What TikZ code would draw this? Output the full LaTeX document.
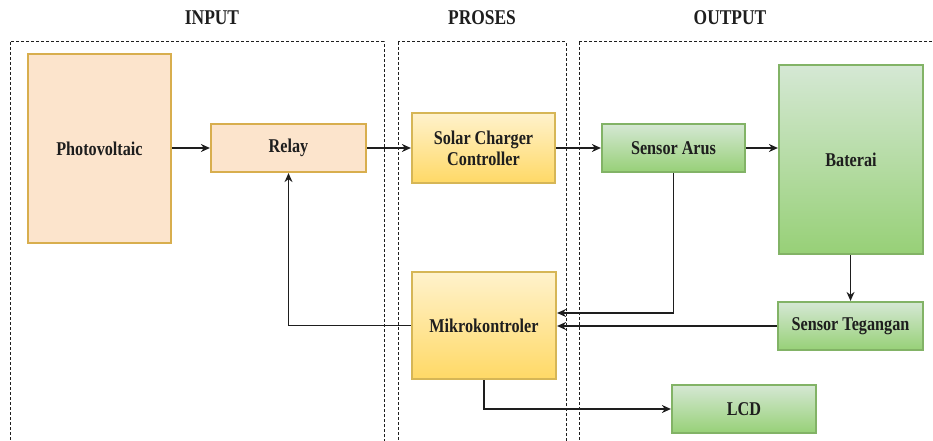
\documentclass[tikz,border=0pt]{standalone}
\usepackage{fontspec}
\setmainfont{Liberation Serif}[FakeStretch=0.83]
\usetikzlibrary{arrows.meta,calc}
\definecolor{orfill}{HTML}{FCE4CC}
\definecolor{ordraw}{HTML}{D8AE4E}
\definecolor{yltop}{HTML}{FFF2CC}
\definecolor{ylbot}{HTML}{FFD966}
\definecolor{yldraw}{HTML}{D6B656}
\definecolor{grtop}{HTML}{D5E8D4}
\definecolor{grbot}{HTML}{97D077}
\definecolor{grdraw}{HTML}{82B366}
\definecolor{ink}{HTML}{1E1E1E}
\begin{document}
\begin{tikzpicture}[x=1pt,y=-1pt,
  zone/.style={draw=ink, line width=1pt, dash pattern=on 3pt off 2pt},
  head/.style={font=\fontsize{21}{24}\selectfont\bfseries, text=ink},
  box/.style={line width=2.2pt, inner sep=0pt, align=center, text=ink,
    font=\fontsize{19.5}{21}\selectfont\bfseries},
  orbox/.style={box, draw=ordraw, fill=orfill},
  ylbox/.style={box, draw=yldraw, top color=yltop, bottom color=ylbot},
  grbox/.style={box, draw=grdraw, top color=grtop, bottom color=grbot},
  conn/.style={draw=ink, line width=1.2pt, -{Stealth[length=9pt,width=8pt]}}
]
\useasboundingbox (0,0) rectangle (933,441);
\fill[white] (0,0) rectangle (933,441);
\begin{scope}
  \clip (0,0) rectangle (933,441);
  \draw[zone] (10,42) rectangle (384,470);
  \draw[zone] (398,42) rectangle (566,470);
  \draw[zone] (579,42) rectangle (960,470);
\end{scope}

\node[head] (hin) at (212,18) {INPUT};
\node[head] (hpr) at (482,18) {PROSES};
\node[head] (hout) at (730,18) {OUTPUT};

\node[orbox, minimum width=143pt, minimum height=189pt] (pv) at (99.5,148.5) {Photovoltaic};
\node[orbox, minimum width=155pt, minimum height=48pt] (relay) at (288.5,148) {Relay};
\node[ylbox, minimum width=143pt, minimum height=70pt] (scc) at (483.5,148) {Solar Charger\\Controller};
\node[grbox, minimum width=143pt, minimum height=48pt] (sa) at (673.5,148) {Sensor Arus};
\node[grbox, minimum width=144pt, minimum height=189pt] (bat) at (851,159.5) {Baterai};
\node[ylbox, minimum width=144pt, minimum height=107pt] (mk) at (484,325.5) {Mikrokontroler};
\node[grbox, minimum width=145pt, minimum height=48pt] (st) at (850.5,326) {Sensor Tegangan};
\node[grbox, minimum width=144pt, minimum height=48pt] (lcd) at (744,409) {LCD};

\draw[conn] (pv.east |- relay.west) -- (relay.west);
\draw[conn] (relay.east) -- (scc.west);
\draw[conn] (scc.east) -- (sa.west);
\draw[conn] (sa.east) -- (sa.east -| bat.west);
\draw[conn] (bat.south -| st.north) -- (st.north);
\draw[conn] (sa.south) |- ([yshift=12.5pt]mk.east);
\draw[conn] (st.west) -- (st.west -| mk.east);
\draw[conn] (mk.west) -| (relay.south);
\draw[conn] (mk.south) |- (lcd.west);
\end{tikzpicture}
\end{document}
